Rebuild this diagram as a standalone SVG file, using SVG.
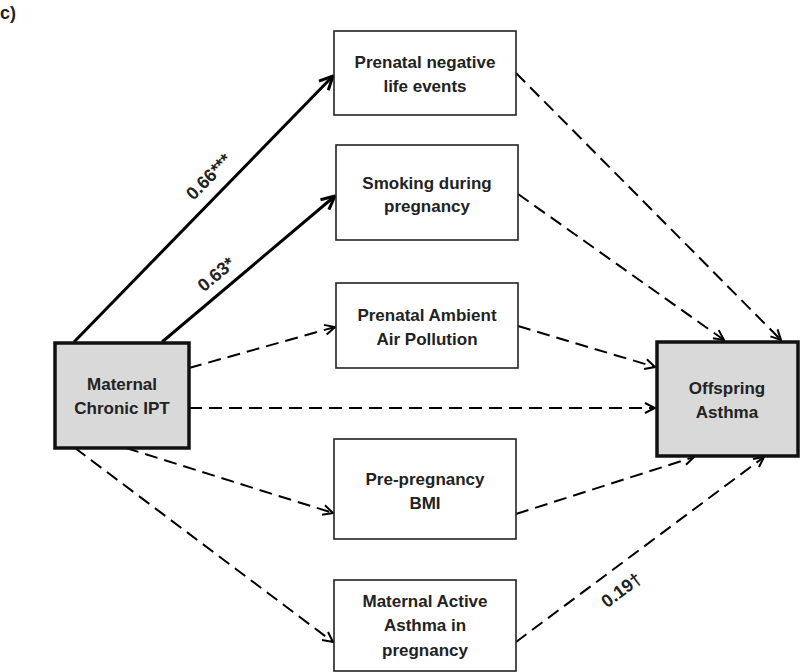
<svg xmlns="http://www.w3.org/2000/svg" width="800" height="672" viewBox="0 0 800 672">
<style>
.box{fill:#fff;stroke:#222;stroke-width:1.6}
.main{fill:#d9d9d9;stroke:#111;stroke-width:3.5}
.t{font-family:"Liberation Sans",Arial,sans-serif;font-weight:bold;font-size:17px;fill:#222;text-anchor:middle}
.lb{font-size:18px}
.solid{stroke:#000;stroke-width:3;fill:none}
.dash{stroke:#000;stroke-width:2;fill:none;stroke-dasharray:13 7}
</style>
<defs>
<marker id="ah" viewBox="0 0 12 12" refX="11" refY="6" markerWidth="12" markerHeight="12" markerUnits="userSpaceOnUse" orient="auto">
<path d="M1,1 L11,6 L1,11" fill="none" stroke="#000" stroke-width="2"/>
</marker>
<marker id="ahs" viewBox="0 0 16 16" refX="15" refY="8" markerWidth="16" markerHeight="16" markerUnits="userSpaceOnUse" orient="auto">
<path d="M1.5,1.5 L15,8 L1.5,14.5" fill="none" stroke="#000" stroke-width="3"/>
</marker>
</defs>
<rect width="800" height="672" fill="#fff"/>
<text x="0" y="19" class="t" style="text-anchor:start;font-size:18px">c)</text>
<g id="connectors">
<line class="solid" x1="74" y1="342" x2="333" y2="76" marker-end="url(#ahs)"/>
<line class="solid" x1="162" y1="342" x2="335" y2="196" marker-end="url(#ahs)"/>
<line class="dash" x1="516" y1="73" x2="781" y2="340" marker-end="url(#ah)"/>
<line class="dash" x1="518" y1="194" x2="724" y2="340" marker-end="url(#ah)"/>
<line class="dash" x1="518" y1="326" x2="655" y2="367" marker-end="url(#ah)"/>
<line class="dash" x1="189" y1="408" x2="655" y2="408" marker-end="url(#ah)"/>
<line class="dash" x1="189" y1="368" x2="335" y2="327" marker-end="url(#ah)"/>
<line class="dash" x1="126" y1="448" x2="333" y2="513" marker-end="url(#ah)"/>
<line class="dash" x1="75" y1="448" x2="333" y2="642" marker-end="url(#ah)"/>
<line class="dash" x1="516" y1="514" x2="694" y2="457" marker-end="url(#ah)"/>
<line class="dash" x1="516" y1="642" x2="764" y2="457" marker-end="url(#ah)"/>
<text class="t lb" transform="translate(213,181) rotate(-45.8)">0.66***</text>
<text class="t lb" transform="translate(220,279) rotate(-40.2)">0.63*</text>
<text class="t lb" transform="translate(625,595) rotate(-36.8)">0.19†</text>
</g>
<g id="n1"><rect class="box" x="334" y="31" width="182" height="84"/>
<text class="t" x="425" y="68">Prenatal negative</text><text class="t" x="425" y="92">life events</text></g>
<g id="n2"><rect class="box" x="336" y="145" width="182" height="95"/>
<text class="t" x="427" y="189">Smoking during</text><text class="t" x="427" y="212">pregnancy</text></g>
<g id="n3"><rect class="box" x="336" y="283" width="182" height="85"/>
<text class="t" x="427" y="321">Prenatal Ambient</text><text class="t" x="427" y="345">Air Pollution</text></g>
<g id="n4"><rect class="box" x="334" y="439" width="182" height="100"/>
<text class="t" x="425" y="485">Pre-pregnancy</text><text class="t" x="425" y="509">BMI</text></g>
<g id="n5"><rect class="box" x="334" y="580" width="182" height="91"/>
<text class="t" x="425" y="607">Maternal Active</text><text class="t" x="425" y="631">Asthma in</text><text class="t" x="425" y="656">pregnancy</text></g>
<g id="ipt"><rect class="main" x="55" y="343" width="134" height="105"/>
<text class="t" x="122" y="390">Maternal</text><text class="t" x="122" y="414">Chronic IPT</text></g>
<g id="asthma"><rect class="main" x="657" y="342" width="141" height="114"/>
<text class="t" x="727" y="394">Offspring</text><text class="t" x="727" y="418">Asthma</text></g>
</svg>
